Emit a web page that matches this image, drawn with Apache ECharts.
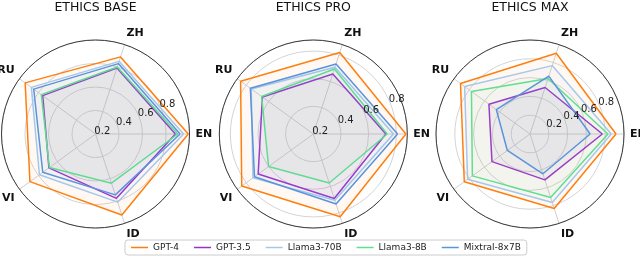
<!DOCTYPE html>
<html>
<head>
<meta charset="utf-8">
<script src="https://cdn.jsdelivr.net/npm/echarts@6/dist/echarts.min.js"></script>
<style>html,body{margin:0;padding:0;background:#fff}#c{width:640px;height:256px}</style>
</head>
<body>
<div id="c"></div>
<script>
// ---- data ----
const langs = ['EN', 'ZH', 'RU', 'VI', 'ID'];
const models = ['GPT-4', 'GPT-3.5', 'Llama3-70B', 'Llama3-8B', 'Mixtral-8x7B'];
const chartTitles = ['ETHICS BASE', 'ETHICS PRO', 'ETHICS MAX'];
const radialTickLabels = ['0.2', '0.4', '0.6', '0.8'];

// ETHICS BASE  (EN, ZH, RU, VI, ID)
const base_gpt4    = [0.99, 0.89, 0.94, 0.89, 0.925];
const base_gpt35   = [0.88, 0.79, 0.755, 0.69, 0.776];
const base_llama70 = [0.95, 0.85, 0.875, 0.79, 0.81];
const base_llama8  = [0.90, 0.80, 0.77, 0.685, 0.64];
const base_mixtral = [0.92, 0.83, 0.85, 0.755, 0.745];

// ETHICS PRO
const pro_gpt4    = [0.87, 0.82, 0.85, 0.84, 0.83];
const pro_gpt35   = [0.725, 0.657, 0.655, 0.693, 0.69];
const pro_llama70 = [0.78, 0.707, 0.755, 0.74, 0.704];
const pro_llama8  = [0.735, 0.694, 0.662, 0.60, 0.573];
const pro_mixtral = [0.81, 0.733, 0.763, 0.726, 0.733];

// ETHICS MAX
const max_gpt4    = [0.915, 0.904, 0.914, 0.864, 0.834];
const max_gpt35   = [0.77, 0.52, 0.54, 0.50, 0.513];
const max_llama70 = [0.865, 0.765, 0.86, 0.82, 0.766];
const max_llama8  = [0.83, 0.62, 0.77, 0.758, 0.71];
const max_mixtral = [0.64, 0.647, 0.443, 0.298, 0.445];

// radial axis ranges per chart
const baseRange = [0.2, 1.0];
const proRange  = [0.2, 0.88];
const maxRange  = [0.0, 1.0];

// ---- styling / layout ----
const colors = ['#ff7f0e', '#9b30c8', '#a4c8ec', '#5fe08e', '#5b94dc'];
const centersX = [95.5, 313.3, 530];
const centerY = 134;
const R = 94;
const FONT = 'DejaVu Sans';
const STEP = 360 / langs.length;

const charts = [
  {title: chartTitles[0], range: baseRange, values: [base_gpt4, base_gpt35, base_llama70, base_llama8, base_mixtral]},
  {title: chartTitles[1], range: proRange,  values: [pro_gpt4, pro_gpt35, pro_llama70, pro_llama8, pro_mixtral]},
  {title: chartTitles[2], range: maxRange,  values: [max_gpt4, max_gpt35, max_llama70, max_llama8, max_mixtral]}
];

const polar = [], angleAxis = [], radiusAxis = [], series = [], title = [];
charts.forEach((ch, i) => {
  polar.push({center: [centersX[i], centerY], radius: R});
  title.push({text: ch.title, left: centersX[i], top: 1, textAlign: 'center', padding: 0,
    textStyle: {fontFamily: FONT, fontSize: 12.5, fontWeight: 'normal', color: '#111'}});
  angleAxis.push({
    polarIndex: i, type: 'value', min: 0, max: 360, interval: STEP, startAngle: 0, clockwise: false,
    axisLine: {show: true, lineStyle: {color: '#3a3a3a', width: 1}},
    axisTick: {show: false},
    axisLabel: {margin: 6, fontFamily: FONT, fontSize: 11, fontWeight: 'bold', color: '#111',
      formatter: v => { const k = Math.round(v / STEP); return k < langs.length ? langs[k] : ''; }},
    splitLine: {show: true, lineStyle: {color: '#cfcfcf', width: 1}},
    z: 1
  });
  radiusAxis.push({
    polarIndex: i, type: 'value', min: ch.range[0], max: ch.range[1], interval: 0.2,
    axisLine: {show: false}, axisTick: {show: false}, axisLabel: {show: false},
    splitLine: {show: true, lineStyle: {color: '#d3d3d3', width: 1}},
    z: 0
  });
  ch.values.forEach((vals, k) => {
    const pts = vals.map((v, j) => [v, j * STEP]);
    pts.push([vals[0], 0]);
    series.push({
      name: models[k], type: 'line', coordinateSystem: 'polar', polarIndex: i,
      data: pts, symbol: 'none', smooth: false, animation: false, clip: false,
      lineStyle: {color: colors[k], width: 1.5},
      itemStyle: {color: colors[k]},
      areaStyle: {color: colors[k], opacity: 0.05},
      z: 3 + k
    });
  });
});
// overlay polars for the radial tick labels at 22.5°
charts.forEach((ch, i) => {
  const pi = 3 + i;
  polar.push({center: [centersX[i], centerY], radius: R});
  angleAxis.push({polarIndex: pi, type: 'value', min: 0, max: 360, startAngle: 22.5, clockwise: false, show: false});
  radiusAxis.push({
    polarIndex: pi, type: 'value', min: ch.range[0], max: ch.range[1], interval: 0.2,
    axisLine: {show: false}, axisTick: {show: false}, splitLine: {show: false},
    axisLabel: {
      show: true, margin: 3, align: 'left', verticalAlign: 'middle',
      fontFamily: FONT, fontSize: 10, color: '#222',
      formatter: v => { const s = (Math.round(v * 10) / 10).toFixed(1); return radialTickLabels.includes(s) && Math.abs(v - Number(s)) < 1e-6 ? s : ''; }
    },
    z: 10
  });
});

const option = {
  animation: false,
  title: title,
  polar: polar,
  angleAxis: angleAxis,
  radiusAxis: radiusAxis,
  legend: {
    data: models, left: 125, top: 240, orient: 'horizontal',
    icon: 'rect', itemWidth: 17, itemHeight: 1.5, itemGap: 15,
    padding: [3, 6, 3, 6], borderColor: '#cccccc', borderWidth: 1, borderRadius: 3,
    backgroundColor: '#fff',
    textStyle: {fontFamily: FONT, fontSize: 9, color: '#222'}
  },
  series: series
};
const chart = echarts.init(document.getElementById('c'), null, {renderer: 'canvas'});
chart.setOption(option);
</script>
</body>
</html>
